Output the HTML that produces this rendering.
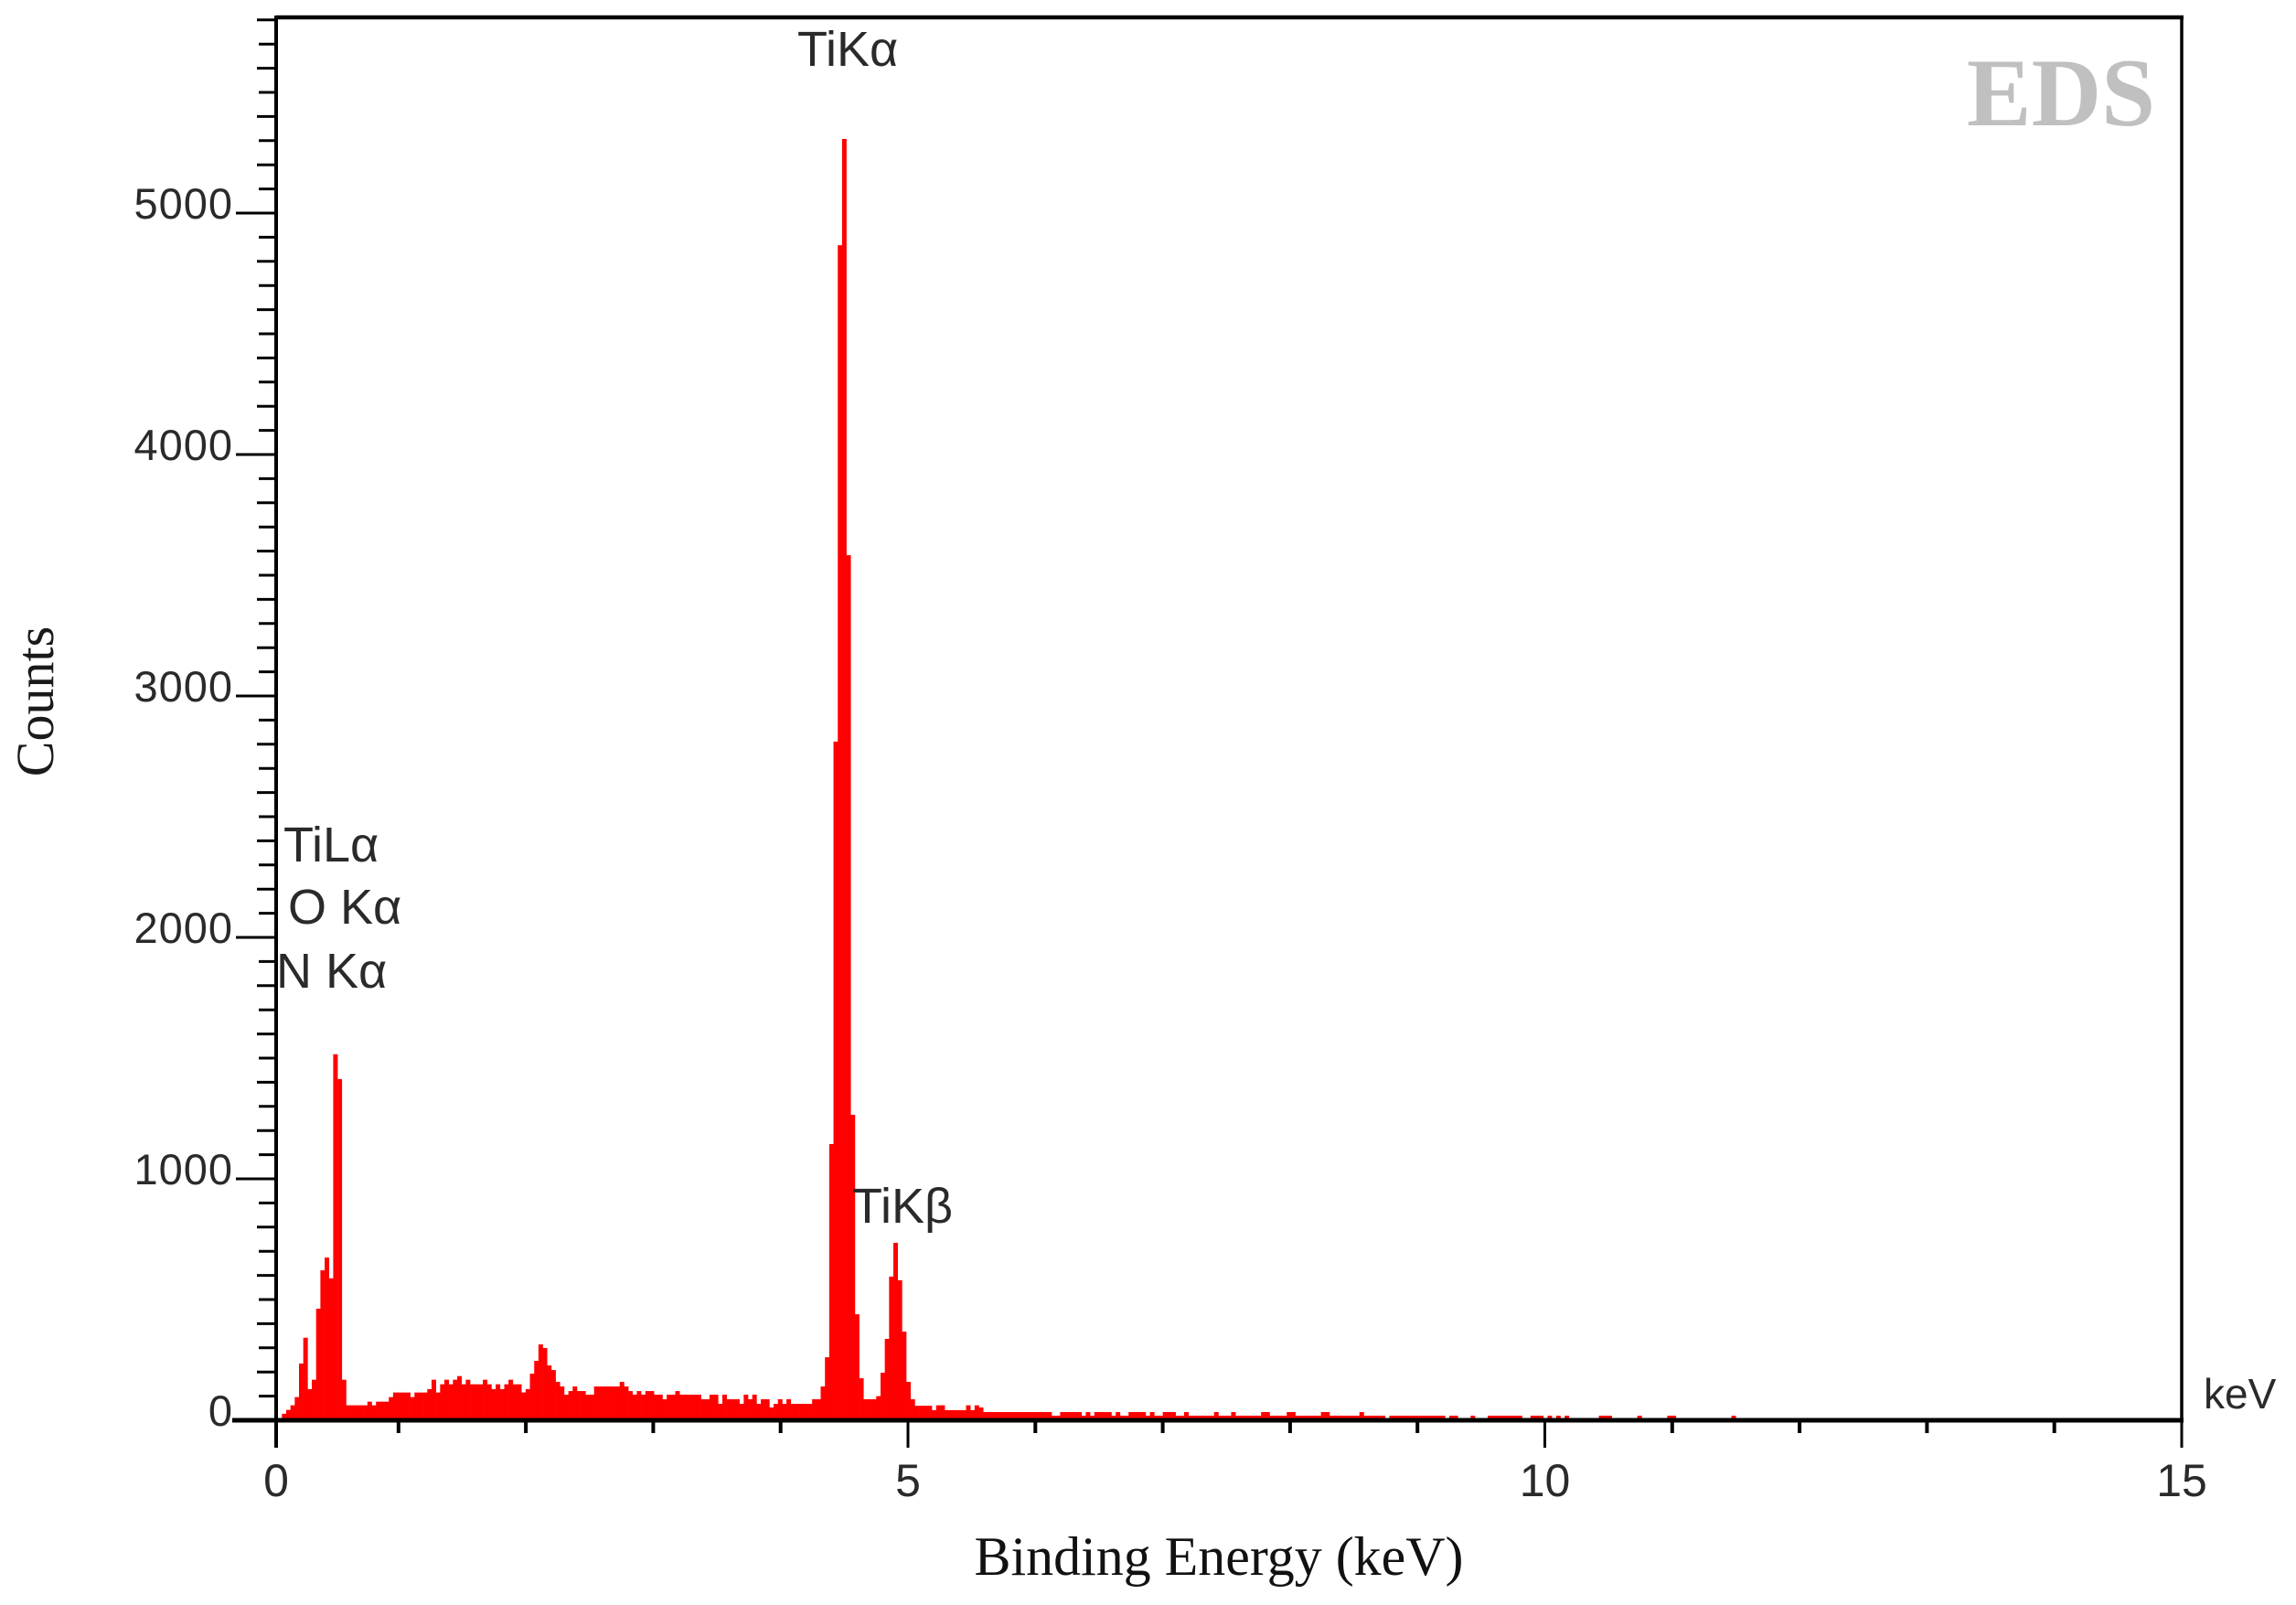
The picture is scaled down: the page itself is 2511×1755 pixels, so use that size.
<!DOCTYPE html>
<html><head><meta charset="utf-8"><style>
html,body{margin:0;padding:0;background:#fff;}
svg{display:block;}
</style></head><body>
<svg id="chart" width="2511" height="1755" viewBox="0 0 2511 1755" xmlns="http://www.w3.org/2000/svg">
<rect x="0" y="0" width="2511" height="1755" fill="#fff"/>
<g id="bars"></g>
<g id="axes"></g>
<text x="2254" y="137" font-family="Liberation Serif, serif" font-weight="bold" font-size="106" fill="#c0c0c0" text-anchor="middle">EDS</text>
<g font-family="Liberation Sans, sans-serif" font-size="54" fill="#2a2a2a">
<text x="872" y="72">TiKα</text>
<text x="310" y="942">TiLα</text>
<text x="315" y="1010">O Kα</text>
<text x="302" y="1080">N Kα</text>
<text x="932" y="1337">TiKβ</text>
<text x="2410" y="1540" font-size="46">keV</text>
</g>
<text x="1333" y="1722" font-family="Liberation Serif, serif" font-size="60" fill="#111" text-anchor="middle" textLength="535" lengthAdjust="spacingAndGlyphs">Binding Energy (keV)</text>
<text transform="translate(58,767) rotate(-90)" font-family="Liberation Serif, serif" font-size="58" fill="#1a1a1a" text-anchor="middle">Counts</text>
</svg>
<script>
const binStartKeV = 0.0847;
const binWidthKeV = 0.03357;
const counts = [
27,43,62,96,235,342,129,168,462,621,674,588,1516,1413,168,62,62,62,62,62,
77,62,77,77,77,96,115,115,115,115,96,115,115,115,129,168,115,149,168,149,
168,183,149,168,149,149,149,168,149,129,149,129,149,168,149,149,115,129,193,246,
314,299,227,208,159,140,106,121,140,121,121,106,106,140,140,140,140,140,140,159,
140,121,106,121,106,121,121,106,106,87,106,106,121,106,106,106,106,106,87,87,
106,106,68,106,87,87,87,68,106,87,106,68,87,87,53,68,87,68,87,68,
68,68,68,68,87,87,140,261,1144,2811,4867,5307,3583,1265,439,174,87,87,87,100,
197,337,595,735,580,367,159,87,60,60,60,60,42,62,62,42,42,42,42,42,
62,42,62,53,34,34,34,34,34,34,34,34,34,34,34,34,34,34,34,34,19,19,
34,34,34,34,34,19,34,19,34,34,34,34,19,34,19,19,34,34,34,34,
19,34,19,19,34,34,34,19,19,34,19,19,19,19,19,19,34,19,19,19,
34,19,19,19,19,19,19,34,34,19,19,19,19,34,34,19,19,19,19,19,
19,34,34,19,19,19,19,19,19,19,34,19,19,19,19,19,0,19,19,19,
19,19,19,19,19,19,19,19,19,19,0,19,19,0,0,0,19,0,0,0,
19,19,19,19,19,19,19,19,0,0,19,19,19,0,19,0,19,0,19,0,
0,0,0,0,0,0,19,19,19,0,0,0,0,0,0,19,0,0,0,0,
0,0,19,19,0,0,0,0,0,0,0,0,0,0,0,0,0,19
];
const xTickValues = [0,1,2,3,4,5,6,7,8,9,10,11,12,13,14,15];
const xTickLabels = ["0","5","10","15"];
const xLabelValues = [0,5,10,15];
const yTickLabels = ["0","1000","2000","3000","4000","5000"];
const yLabelValues = [0,1000,2000,3000,4000,5000];

const NS = "http://www.w3.org/2000/svg";
const AX_LEFT = 302, AX_RIGHT = 2386, AX_TOP = 19, AX_BASE = 1553;
function xScale(e){ return e===0 ? AX_LEFT : 296.5 + e*139.3; }
function xBin(e){ return 296.5 + e*139.3; }
function yScale(c){ return AX_BASE - c*0.264; }
function mk(tag, attrs){ const el=document.createElementNS(NS,tag); for(const k in attrs) el.setAttribute(k,attrs[k]); return el; }

const bars = document.getElementById('bars');
counts.forEach((c,i)=>{
  if(c<=0) return;
  const x0 = xBin(binStartKeV + i*binWidthKeV);
  const x1 = xBin(binStartKeV + (i+1)*binWidthKeV);
  const y = yScale(c);
  const r = mk('rect',{x:x0.toFixed(2), y:y.toFixed(2), width:(x1-x0+0.3).toFixed(2), height:(AX_BASE-y).toFixed(2), fill:'#ff0000'});
  
  
  bars.appendChild(r);
});

const axes = document.getElementById('axes');
// frame
let f = mk('line',{x1:AX_LEFT,y1:AX_TOP,x2:AX_RIGHT+2,y2:AX_TOP,stroke:'#000','stroke-width':4.5});


axes.appendChild(f);
f = mk('line',{x1:AX_RIGHT,y1:AX_TOP,x2:AX_RIGHT,y2:AX_BASE,stroke:'#000','stroke-width':3.5});


axes.appendChild(f);
f = mk('line',{x1:AX_LEFT,y1:AX_TOP-2,x2:AX_LEFT,y2:AX_BASE+30,stroke:'#000','stroke-width':4});


axes.appendChild(f);
f = mk('line',{x1:AX_LEFT-48,y1:AX_BASE,x2:AX_RIGHT+2,y2:AX_BASE,stroke:'#000','stroke-width':5});


axes.appendChild(f);

// y ticks every 100
for(let c=100;c<=5800;c+=100){
  const y = yScale(c);
  const major = c%1000===0;
  const len = major ? 44 : (c%200===0 ? 21 : 19);
  const t = mk('line',{x1:AX_LEFT-len,y1:y,x2:AX_LEFT,y2:y,stroke:'#000','stroke-width':3});
  
  
  axes.appendChild(t);
}
yLabelValues.forEach((v,i)=>{
  const t = mk('text',{x:255,y:(yScale(v)+6).toFixed(1),'text-anchor':'end','font-family':'Liberation Sans, sans-serif','font-size':47,fill:'#2a2a2a','letter-spacing':'1'});
  t.textContent = yTickLabels[i];
  
  
  axes.appendChild(t);
});
// x ticks
xTickValues.forEach(v=>{
  if(v===0) return;
  const x = xScale(v);
  const major = v%5===0;
  const t = mk('line',{x1:x,y1:AX_BASE,x2:x,y2:AX_BASE+(major?30:14),stroke:'#000','stroke-width':major?3:4});
  
  
  axes.appendChild(t);
});
xLabelValues.forEach((v,i)=>{
  const t = mk('text',{x:xScale(v).toFixed(1),y:1636,'text-anchor':'middle','font-family':'Liberation Sans, sans-serif','font-size':50,fill:'#2a2a2a'});
  t.textContent = xTickLabels[i];
  
  
  axes.appendChild(t);
});
</script>
</body></html>
